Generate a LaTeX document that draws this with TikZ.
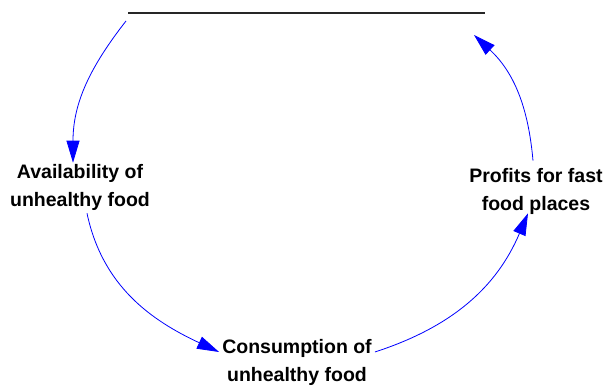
\documentclass[tikz,border=0pt]{standalone}
\usepackage{fontspec}
\setmainfont{Liberation Sans}
\usetikzlibrary{arrows.meta}
\tikzset{
  varlabel/.style={align=center, inner sep=3pt, font=\fontsize{19.5}{28}\selectfont\bfseries},
  link/.style={draw=blue, line width=0.8pt, -{Triangle[length=22pt,width=13pt]}}
}
\begin{document}
\begin{tikzpicture}[x=1pt,y=1pt]
\useasboundingbox (0,0) rectangle (606,387);
\coordinate (lineL) at (128,374);
\coordinate (lineR) at (485,374);
\coordinate (topstart) at (126,366);
\coordinate (topend) at (474,352);
\draw[line width=1.2pt, black!85] (lineL) -- (lineR);
\node[varlabel] (avail) at (80,200) {Availability of\\unhealthy food};
\node[varlabel] (cons) at (297,25) {Consumption of\\unhealthy food};
\node[varlabel] (profits) at (536,196) {Profits for fast\\food places};
\draw[link] (topstart) to[out=-128,in=90] ([xshift=-7pt,yshift=-2pt]avail.north);
\draw[link] ([xshift=7pt]avail.south) to[out=-78,in=155] ([yshift=10pt]cons.west);
\draw[link] ([yshift=10pt]cons.east) to[out=18,in=-113] ([xshift=-8pt,yshift=4pt]profits.south);
\draw[link] ([shift={(-3pt,4pt)}]profits.north) to[out=95,in=-43] (topend);
\end{tikzpicture}
\end{document}
